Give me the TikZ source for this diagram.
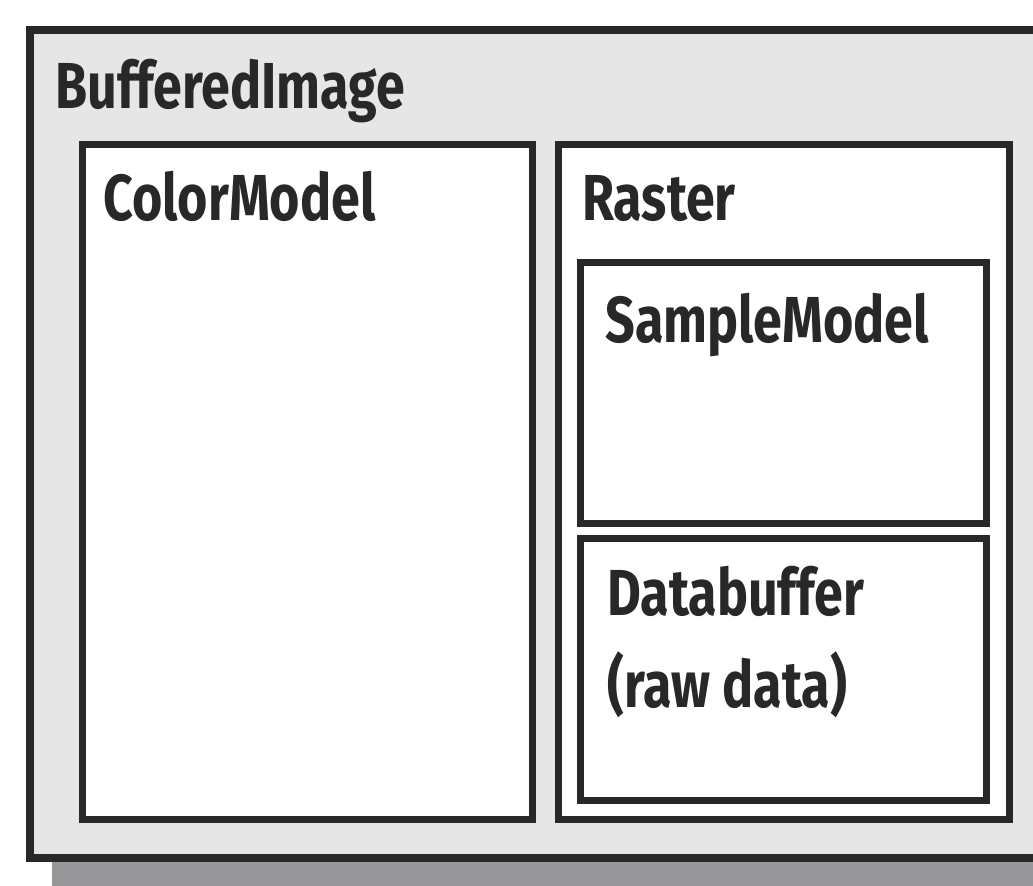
\documentclass[tikz,border=0pt]{standalone}
\usepackage{fontspec}
\setmainfont{Fira Sans}[FakeStretch=0.8]
\usepackage{xcolor}
\usepackage{tikz}
\usetikzlibrary{positioning, calc}
\definecolor{BI_Line}{RGB}{40,40,40}
\definecolor{BI_Fill}{RGB}{230,230,231}
\definecolor{BI_Shadow}{RGB}{150,150,152}

\begin{document}
\begin{tikzpicture}[
    outerbox/.style={rectangle, draw=BI_Line, line width=4.6pt, fill=BI_Fill,
                     anchor=north west, inner sep=0pt},
    box/.style={rectangle, draw=BI_Line, line width=3.9pt, fill=white,
                anchor=north west, inner sep=0pt},
    title/.style={anchor=base west, inner sep=0pt,
                  font=\fontsize{37}{52}\selectfont\bfseries, text=BI_Line}
]
\path[use as bounding box, clip] (0,0) rectangle (20.66,-17.72);

\fill[BI_Shadow] (1.04,-17.16) rectangle (22,-18);
\node[outerbox, minimum width=20.68cm, minimum height=16.56cm] (image) at (0.52,-0.52) {};

\node[box, minimum width=9cm, minimum height=13.5cm] (colormodel) at (1.58,-2.82) {};
\node[box, minimum width=9.02cm, minimum height=13.5cm] (raster) at (11.1,-2.82) {};
\node[box, minimum width=8.12cm, minimum height=5.22cm] (samplemodel) at (11.54,-5.18) {};
\node[box, minimum width=8.12cm, minimum height=5.24cm] (databuffer) at (11.54,-10.7) {};

\node[title] (imagetxt) at ([shift={(0.58,-1.64)}]image.north west) {BufferedImage};
\node[title] (colortxt) at ([shift={(0.48,-1.58)}]colormodel.north west) {ColorModel};
\node[title] (rastertxt) at ([shift={(0.54,-1.58)}]raster.north west) {Raster};
\node[title] (sampletxt) at ([shift={(0.56,-1.66)}]samplemodel.north west) {SampleModel};
\node[title] (datatxt) at ([shift={(0.6,-1.6)}]databuffer.north west) {Databuffer};
\node[title] (rawtxt) at ([yshift=-1.84cm]datatxt.base west) {(raw data)};

\end{tikzpicture}
\end{document}
